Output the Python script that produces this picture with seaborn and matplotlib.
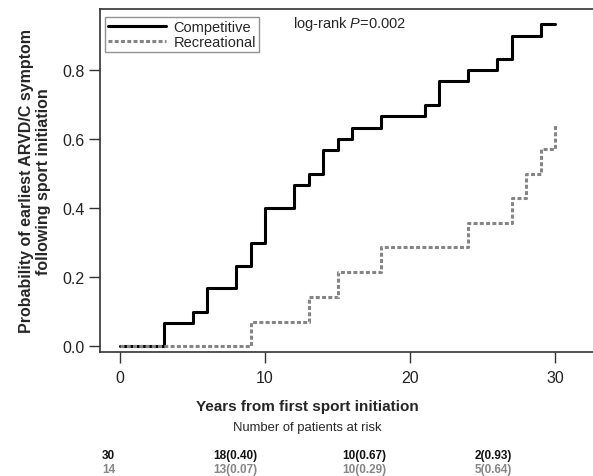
"""
Cumulative incidence of earliest ARVD/C symptom, competitive vs recreational
"""

import numpy as np
import pandas as pd
import matplotlib
matplotlib.use('Agg')
import matplotlib.pyplot as plt
import seaborn as sns

# step curves
comp_years = [0, 3, 5, 6, 8, 9, 10, 12, 13, 14, 15, 16, 18, 21, 22, 24, 26, 27, 29, 30]
comp_prob = [0, 0.067, 0.1, 0.167, 0.233, 0.3, 0.4, 0.467, 0.5, 0.567, 0.6, 0.633,
             0.667, 0.7, 0.767, 0.8, 0.833, 0.9, 0.933, 0.933]
rec_years = [0, 9, 13, 15, 18, 24, 27, 28, 29, 30]
rec_prob = [0, 0.071, 0.143, 0.214, 0.286, 0.357, 0.429, 0.5, 0.571, 0.643]

groups = ['Competitive', 'Recreational']
x_ticks = [0, 10, 20, 30]
y_ticks = [0.0, 0.2, 0.4, 0.6, 0.8]
risk_comp = ['30', '18(0.40)', '10(0.67)', '2(0.93)']
risk_rec = ['14', '13(0.07)', '10(0.29)', '5(0.64)']

sns.set_style('ticks')
plt.rcParams['font.family'] = ['Liberation Sans', 'DejaVu Sans']
plt.rcParams['mathtext.fontset'] = 'custom'
plt.rcParams['mathtext.it'] = 'Liberation Sans:italic'
plt.rcParams['mathtext.rm'] = 'Liberation Sans'

df = pd.concat([
    pd.DataFrame({'years': comp_years, 'prob': comp_prob, 'group': groups[0]}),
    pd.DataFrame({'years': rec_years, 'prob': rec_prob, 'group': groups[1]}),
], ignore_index=True)

W, H = 593, 477
fig = plt.figure(figsize=(W / 100, H / 100), dpi=100)
# axes box: left spine at 100px, runs off the right edge like the original
ax = fig.add_axes([100 / W, (H - 352.7) / H, 500 / W, (352.7 - 10) / H])

colors = {'Competitive': '#000000', 'Recreational': '#858585'}
dash_rec = (1.3, 0.75)
sns.lineplot(data=df, x='years', y='prob', hue='group', style='group',
             palette=colors, dashes={'Competitive': '', 'Recreational': dash_rec},
             drawstyle='steps-post', estimator=None, sort=False,
             linewidth=2.2, legend=False, ax=ax)

ax.set_xlim(-1.38, 33.1)
ax.set_ylim(-0.0165, 0.977)
ax.set_xticks(x_ticks)
ax.set_yticks(y_ticks)
ax.set_yticklabels([f'{v:.1f}' for v in y_ticks])
ax.set_xticklabels([str(v) for v in x_ticks])
ax.tick_params(axis='both', direction='out', length=8, width=1, labelsize=11.5,
               color='#333333', labelcolor='#222222')
ax.tick_params(axis='x', pad=5)
ax.tick_params(axis='y', pad=3)
for s in ax.spines.values():
    s.set_linewidth(1.2)
    s.set_color('#333333')
ax.spines['right'].set_visible(False)
ax.set_xlabel('')
ax.set_ylabel('Probability of earliest ARVD/C symptom\nfollowing sport initiation',
              fontsize=11.5, fontweight='bold', labelpad=8, linespacing=1.15)

handles = [
    plt.Line2D([], [], color=colors['Competitive'], lw=2.2),
    plt.Line2D([], [], color=colors['Recreational'], lw=2.2, dashes=dash_rec),
]
leg = ax.legend(handles, groups, loc='upper left', bbox_to_anchor=(0.004, 0.985),
                fontsize=10.5, frameon=True, fancybox=False, handlelength=4.0,
                handletextpad=0.5, borderpad=0.2, labelspacing=0.1,
                borderaxespad=0.2)
leg.get_frame().set_edgecolor('#777777')
leg.get_frame().set_linewidth(1.0)

ax.text((293 - 100) / 500, (352.7 - 24) / (352.7 - 10), r'log-rank $\it{P}$=0.002',
        transform=ax.transAxes, fontsize=10.5, va='center', ha='left')

fig.text(307 / W, 1 - 407 / H, 'Years from first sport initiation',
         fontsize=11, fontweight='bold', ha='center', va='center')
fig.text(307 / W, 1 - 428 / H, 'Number of patients at risk',
         fontsize=9.4, ha='center', va='center')

right_edges = [115, 257, 386, 512]
for xr, a, b in zip(right_edges, risk_comp, risk_rec):
    fig.text(xr / W, 1 - 456 / H, a, fontsize=8.5, fontweight='bold',
             color='#111111', ha='right', va='center')
    fig.text(xr / W, 1 - 470 / H, b, fontsize=8.5, fontweight='bold',
             color='#858585', ha='right', va='center')

fig.savefig('out.png', dpi=100)
